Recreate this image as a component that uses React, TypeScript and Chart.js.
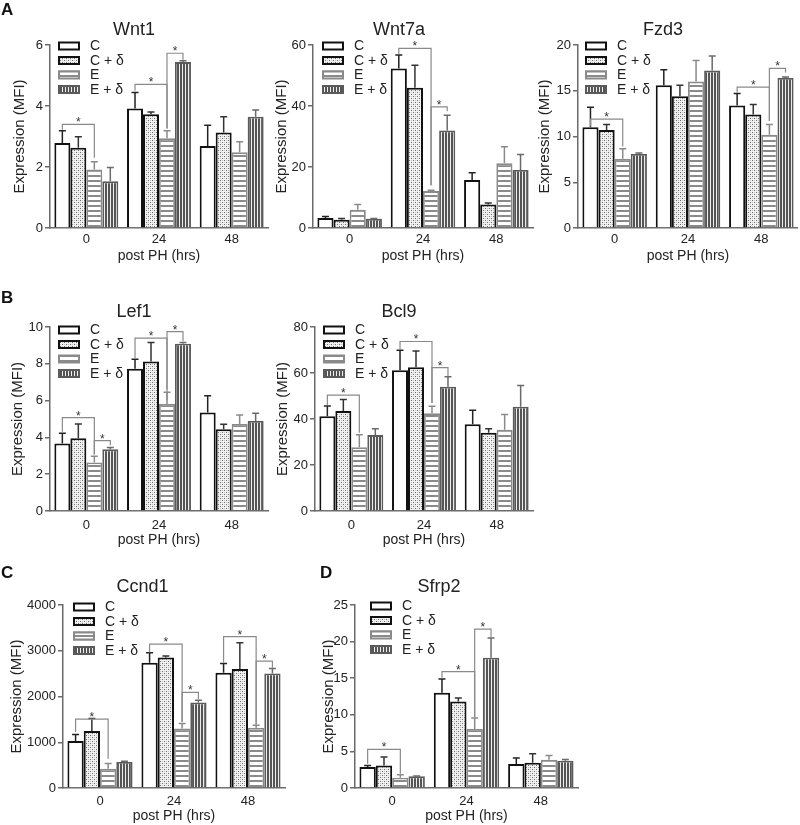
import React, { useEffect, useRef } from 'react';
import { Chart, registerables } from 'chart.js';
Chart.register(...registerables);

const FONT = '"Liberation Sans", Arial, Helvetica, sans-serif';
const AXIS = '#6a6a6a';
const TEXT = '#222222';

const groups = ['0', '24', '48'];
const seriesNames = ['C', 'C + δ', 'E', 'E + δ'];

// means per series [C, C+δ, E, E+δ] at groups [0, 24, 48]; errors are SEM (upper bar only)
const wnt1Means = [[2.79, 3.92, 2.69], [2.63, 3.73, 3.13], [1.92, 2.94, 2.48], [1.53, 5.44, 3.65]];
const wnt1Errors = [[0.4, 0.52, 0.68], [0.36, 0.07, 0.52], [0.25, 0.25, 0.35], [0.45, 0.04, 0.22]];
// [group, fromSeries, toSeries, bracketLevel, leftEnd, rightEnd]
const wnt1Sig = [[0, 0, 2, 3.4, 3.22, 2.3], [1, 0, 2, 4.71, 4.5, 3.26], [1, 2, 3, 5.73, 3.26, 5.52]];

const wnt7aMeans = [[3.3, 52.3, 15.7], [2.7, 46.0, 7.7], [6.0, 12.1, 21.2], [3.0, 32.0, 19.0]];
const wnt7aErrors = [[0.5, 4.4, 2.4], [0.4, 7.4, 0.5], [1.7, 0.3, 5.4], [0.1, 5.0, 5.1]];
const wnt7aSig = [[1, 0, 2, 58.9, 57.0, 14.0], [1, 2, 3, 39.7, 14.0, 38.3]];

const fzd3Means = [[11.0, 15.6, 13.4], [10.7, 14.4, 12.4], [7.56, 16.0, 10.2], [8.1, 17.2, 16.4]];
const fzd3Errors = [[2.2, 1.7, 1.3], [0.6, 1.2, 1.1], [1.1, 2.3, 1.1], [0.1, 1.6, 0.1]];
const fzd3Sig = [[0, 0, 2, 11.9, 11.1, 8.9], [2, 0, 2, 15.4, 14.8, 11.7], [2, 2, 3, 17.45, 11.7, 17.0]];

const lef1Means = [[3.67, 7.73, 5.36], [3.95, 8.13, 4.44], [2.64, 5.82, 4.73], [3.35, 9.09, 4.89]];
const lef1Errors = [[0.55, 0.52, 0.91], [0.78, 1.03, 0.27], [0.34, 0.63, 0.49], [0.1, 0.07, 0.42]];
const lef1Sig = [[0, 0, 2, 5.07, 4.31, 3.07], [0, 2, 3, 3.82, 3.07, 3.58], [1, 0, 2, 9.4, 8.31, 6.0], [1, 2, 3, 9.75, 6.6, 9.22]];

const bcl9Means = [[41.2, 61.2, 37.7], [43.5, 62.5, 34.0], [27.7, 42.5, 35.3], [33.0, 54.0, 45.3]];
const bcl9Errors = [[4.5, 8.7, 6.1], [5.0, 7.1, 1.8], [5.4, 3.0, 6.7], [2.8, 4.4, 9.3]];
const bcl9Sig = [[0, 0, 2, 50.4, 46.0, 34.0], [1, 0, 2, 73.7, 70.1, 47.0], [1, 2, 3, 62.3, 47.0, 58.7]];

const ccnd1Means = [[1029, 2737, 2518], [1248, 2854, 2599], [423, 1299, 1314], [569, 1869, 2504]];
const ccnd1Errors = [[139, 219, 205], [270, 29, 576], [110, 110, 58], [15, 51, 109]];
const ccnd1Sig = [[0, 0, 2, 1504, 1226, 642], [1, 0, 2, 3146, 2963, 1445], [1, 2, 3, 2088, 1445, 1942], [2, 0, 2, 3307, 2745, 1387], [2, 2, 3, 2774, 1387, 2628]];

const sfrp2Means = [[2.86, 13.0, 3.27], [3.09, 11.8, 3.45], [1.41, 8.05, 3.86], [1.59, 17.8, 3.73]];
const sfrp2Errors = [[0.23, 1.9, 0.82], [1.14, 0.5, 1.23], [0.41, 1.5, 0.59], [0.05, 2.7, 0.18]];
const sfrp2Sig = [[0, 0, 2, 5.27, 3.32, 1.95], [1, 0, 2, 15.9, 15.05, 9.68], [1, 2, 3, 21.7, 9.68, 20.6]];

const panelLetters = ['A', 'B', 'C', 'D'];

interface PanelCfg {
  title: string;
  means: number[][];
  errors: number[][];
  sigs: number[][];
  yMax: number;
  yStep: number;
  cl: number; ct: number; cw: number; ch: number;
  axisX: number; plotTop: number; plotBottom: number; plotRight: number;
  yTitleX: number; titleY: number; xTickPad: number;
  legendDx: number; legendDy: number;
}

const row1 = { ct: 0, ch: 265, titleY: 30, plotTop: 45, plotBottom: 228, xTickPad: 4 };
const row2 = { ct: 270, ch: 279, titleY: 312, plotTop: 327, plotBottom: 511, xTickPad: 7 };
const row3 = { ct: 545, ch: 280, titleY: 587, plotTop: 605, plotBottom: 788, xTickPad: 6 };

const panels: PanelCfg[] = [
  { title: 'Wnt1', means: wnt1Means, errors: wnt1Errors, sigs: wnt1Sig, yMax: 6, yStep: 2, ...row1, cl: 0, cw: 276, axisX: 50, plotRight: 268, yTitleX: 20, legendDx: 8, legendDy: 1 },
  { title: 'Wnt7a', means: wnt7aMeans, errors: wnt7aErrors, sigs: wnt7aSig, yMax: 60, yStep: 20, ...row1, cl: 265, cw: 276, axisX: 313, plotRight: 533, yTitleX: 282, legendDx: 9, legendDy: 1 },
  { title: 'Fzd3', means: fzd3Means, errors: fzd3Errors, sigs: fzd3Sig, yMax: 20, yStep: 5, ...row1, cl: 528, cw: 270, axisX: 578, plotRight: 798, yTitleX: 545, legendDx: 7, legendDy: 1 },
  { title: 'Lef1', means: lef1Means, errors: lef1Errors, sigs: lef1Sig, yMax: 10, yStep: 2, ...row2, cl: 0, cw: 286, axisX: 50, plotRight: 268, yTitleX: 18, legendDx: 8, legendDy: 3 },
  { title: 'Bcl9', means: bcl9Means, errors: bcl9Errors, sigs: bcl9Sig, yMax: 80, yStep: 20, ...row2, cl: 265, cw: 280, axisX: 315, plotRight: 533, yTitleX: 283, legendDx: 8, legendDy: 3 },
  { title: 'Ccnd1', means: ccnd1Means, errors: ccnd1Errors, sigs: ccnd1Sig, yMax: 4000, yStep: 1000, ...row3, cl: 0, cw: 296, axisX: 63, plotRight: 285, yTitleX: 17, legendDx: 10, legendDy: 2 },
  { title: 'Sfrp2', means: sfrp2Means, errors: sfrp2Errors, sigs: sfrp2Sig, yMax: 25, yStep: 5, ...row3, cl: 300, cw: 304, axisX: 355, plotRight: 578, yTitleX: 329, legendDx: 15, legendDy: 1 },
];

const letterPos = [
  { x: 1, y: 1 },
  { x: 1, y: 289 },
  { x: 1, y: 564 },
  { x: 320, y: 564 },
];

function makeFill(kind: number): CanvasPattern | string {
  if (kind === 0) return '#ffffff';
  const c = document.createElement('canvas');
  const ctx = c.getContext('2d') as CanvasRenderingContext2D;
  if (kind === 1) {
    c.width = 4; c.height = 4;
    ctx.fillStyle = '#f2f2f2'; ctx.fillRect(0, 0, 4, 4);
    ctx.fillStyle = '#6a6a6a';
    ctx.fillRect(0, 0, 1, 1); ctx.fillRect(2, 2, 1, 1);
    ctx.fillStyle = '#c4c4c4';
    ctx.fillRect(2, 0, 1, 1); ctx.fillRect(0, 2, 1, 1);
  } else if (kind === 2) {
    c.width = 4; c.height = 5;
    ctx.fillStyle = '#ffffff'; ctx.fillRect(0, 0, 4, 5);
    ctx.fillStyle = '#8a8a8a'; ctx.fillRect(0, 0, 4, 2);
  } else {
    c.width = 3; c.height = 4;
    ctx.fillStyle = '#eeeeee'; ctx.fillRect(0, 0, 3, 4);
    ctx.fillStyle = '#555555'; ctx.fillRect(0, 0, 2, 4);
  }
  return ctx.createPattern(c, 'repeat') as CanvasPattern;
}

const borderColors = ['#111111', '#111111', '#8a8a8a', '#5a5a5a'];
const errColors = ['#222222', '#333333', '#8a8a8a', '#6a6a6a'];

function Panel({ p }: { p: PanelCfg }) {
  const ref = useRef<HTMLCanvasElement | null>(null);
  useEffect(() => {
    const canvas = ref.current;
    if (!canvas) return;
    const fills = [0, 1, 2, 3].map(makeFill);
    const titleLH = 18 * 1.2;
    const extras = {
      id: 'extras',
      afterDatasetsDraw(chart: any) {
        const ctx: CanvasRenderingContext2D = chart.ctx;
        const ys = chart.scales.y;
        ctx.save();
        p.means.forEach((m, i) => {
          const meta = chart.getDatasetMeta(i);
          m.forEach((v, g) => {
            const bar = meta.data[g];
            const x = bar.x;
            const y0 = ys.getPixelForValue(v);
            const y1 = ys.getPixelForValue(v + p.errors[i][g]);
            ctx.strokeStyle = errColors[i];
            ctx.lineWidth = 1.5;
            ctx.beginPath();
            ctx.moveTo(x, y0);
            ctx.lineTo(x, y1);
            ctx.moveTo(x - 3.5, y1);
            ctx.lineTo(x + 3.5, y1);
            ctx.stroke();
          });
        });
        p.sigs.forEach(([g, a, b, level, le, re]) => {
          const xa = chart.getDatasetMeta(a).data[g].x;
          const xb = chart.getDatasetMeta(b).data[g].x;
          const yl = ys.getPixelForValue(level);
          ctx.strokeStyle = '#8a8a8a';
          ctx.lineWidth = 1.2;
          ctx.beginPath();
          ctx.moveTo(xa, ys.getPixelForValue(le));
          ctx.lineTo(xa, yl);
          ctx.lineTo(xb, yl);
          ctx.lineTo(xb, ys.getPixelForValue(re));
          ctx.stroke();
          ctx.fillStyle = '#333333';
          ctx.font = `12px ${FONT}`;
          ctx.textAlign = 'center';
          ctx.textBaseline = 'alphabetic';
          ctx.fillText('*', (xa + xb) / 2, yl + 2);
        });
        ctx.restore();
      },
      afterDraw(chart: any) {
        const ctx: CanvasRenderingContext2D = chart.ctx;
        const area = chart.chartArea;
        const x0 = area.left + p.legendDx;
        ctx.save();
        seriesNames.forEach((name, i) => {
          const yc = area.top + p.legendDy + i * 14.5;
          ctx.fillStyle = fills[i] as any;
          ctx.fillRect(x0, yc - 4.5, 22, 9);
          ctx.strokeStyle = borderColors[i];
          ctx.lineWidth = 2;
          ctx.strokeRect(x0 + 1, yc - 3.5, 20, 7);
          ctx.fillStyle = TEXT;
          ctx.font = `14px ${FONT}`;
          ctx.textAlign = 'left';
          ctx.textBaseline = 'middle';
          ctx.fillText(name, x0 + 32, yc + 0.5);
        });
        ctx.restore();
      },
    };
    const chart = new Chart(canvas, {
      type: 'bar',
      data: {
        labels: groups,
        datasets: p.means.map((m, i) => ({
          label: seriesNames[i],
          data: m,
          backgroundColor: fills[i] as any,
          borderColor: borderColors[i],
          borderWidth: i < 2 ? 2 : 1.8,
          borderSkipped: 'bottom' as const,
          barPercentage: 1,
          categoryPercentage: 0.88,
        })),
      },
      options: {
        responsive: false,
        maintainAspectRatio: false,
        animation: false,
        events: [],
        layout: { padding: { left: 0, top: 0, bottom: 0, right: p.cl + p.cw - p.plotRight } },
        plugins: {
          legend: { display: false },
          tooltip: { enabled: false },
          title: {
            display: true,
            text: p.title,
            color: TEXT,
            font: { family: FONT, size: 18, weight: 'normal' as any },
            padding: { top: p.titleY - p.ct - titleLH / 2, bottom: p.plotTop - p.titleY - titleLH / 2 },
          },
        },
        scales: {
          x: {
            grid: { display: false, drawTicks: false },
            border: { display: true, color: AXIS, width: 1.5 },
            ticks: { color: TEXT, font: { family: FONT, size: 13 }, padding: p.xTickPad },
            title: { display: true, text: 'post PH (hrs)', color: TEXT, font: { family: FONT, size: 14 }, padding: { top: 0, bottom: 0 } },
            afterFit: (s: any) => { s.height = p.ct + p.ch - p.plotBottom; },
          },
          y: {
            min: 0,
            max: p.yMax,
            grid: { display: true, drawOnChartArea: false, drawTicks: true, tickLength: 5, color: AXIS, lineWidth: 1.5 },
            border: { display: true, color: AXIS, width: 1.5 },
            ticks: { stepSize: p.yStep, color: TEXT, font: { family: FONT, size: 13 }, padding: 2, callback: (v: any) => String(v) },
            title: { display: true, text: 'Expression (MFI)', color: TEXT, font: { family: FONT, size: 15 }, padding: { top: p.yTitleX - p.cl - 9, bottom: 0 } },
            afterFit: (s: any) => { s.width = p.axisX - p.cl; },
          },
        },
      },
      plugins: [extras],
    });
    return () => chart.destroy();
  }, [p]);
  return (
    <canvas
      ref={ref}
      width={p.cw}
      height={p.ch}
      style={{ position: 'absolute', left: p.cl, top: p.ct, width: p.cw, height: p.ch }}
    />
  );
}

export default function App() {
  return (
    <div style={{ position: 'absolute', left: 0, top: 0, width: 800, height: 825, overflow: 'hidden', background: '#ffffff' }}>
      {panels.map((p) => (
        <Panel key={p.title} p={p} />
      ))}
      {panelLetters.map((t, i) => (
        <div
          key={t}
          style={{ position: 'absolute', left: letterPos[i].x, top: letterPos[i].y, fontFamily: FONT, fontWeight: 'bold', fontSize: 17, lineHeight: '17px', color: '#111' }}
        >
          {t}
        </div>
      ))}
    </div>
  );
}
